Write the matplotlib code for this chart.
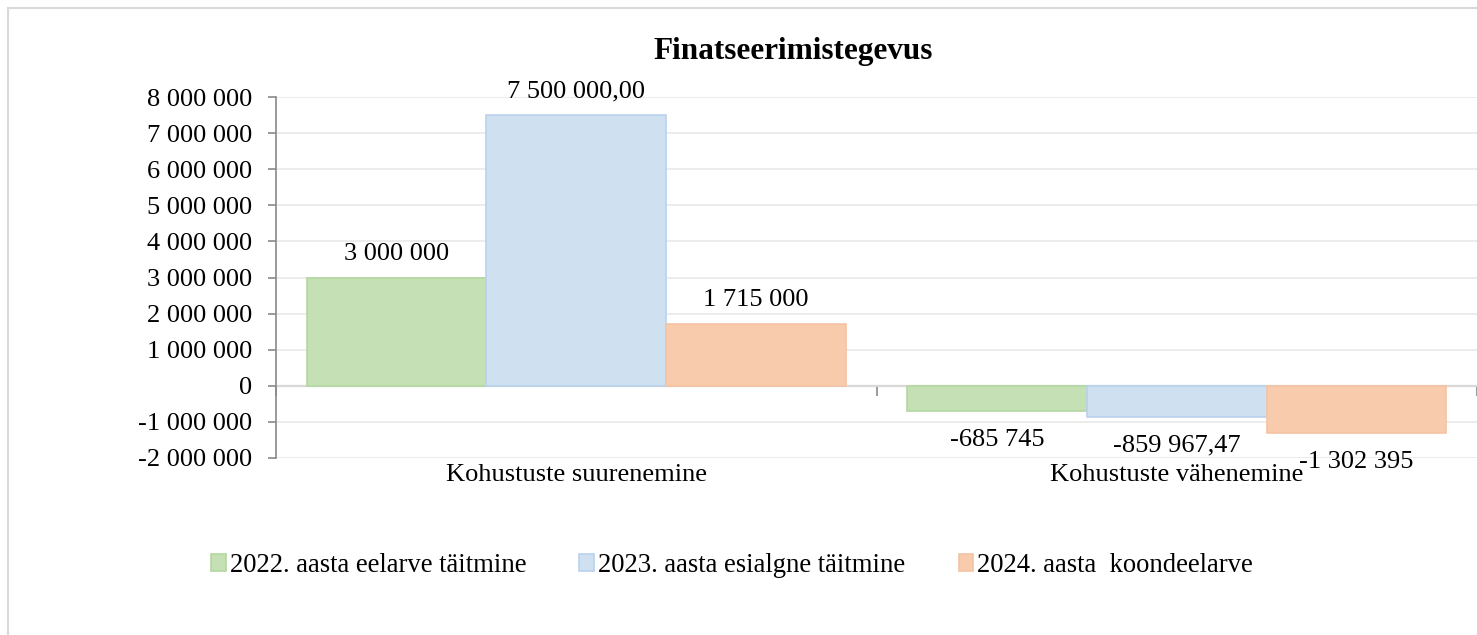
import matplotlib
matplotlib.use("Agg")
import matplotlib.pyplot as plt
from matplotlib.patches import Rectangle
from matplotlib.container import BarContainer
from matplotlib.ticker import FuncFormatter
import numpy as np

categories = ["Kohustuste suurenemine", "Kohustuste vähenemine"]
series_names = ["2022. aasta eelarve täitmine", "2023. aasta esialgne täitmine", "2024. aasta  koondeelarve"]
values_2022 = [3000000, -685745]
values_2023 = [7500000, -859967.47]
values_2024 = [1715000, -1302395]
label_decimals = [0, 2, 0]
title = "Finatseerimistegevus"

fills = ["#C5E0B4", "#CFE0F1", "#F8CBAD"]
edges = ["#B4D7A0", "#B9D2EC", "#F5C3A3"]

plt.rcParams['font.family'] = ['Liberation Serif', 'DejaVu Serif']

W, H, DPI = 1477, 635, 100
fig = plt.figure(figsize=(W / DPI, H / DPI), dpi=DPI)

# outer chart frame (extends beyond the image on right/bottom)
fig.patches.append(Rectangle((8 / W, -0.1), 1.2, 1 - 8 / H + 0.1, transform=fig.transFigure,
                             fill=False, edgecolor="#D9D9D9", linewidth=1.5, zorder=0))

ax = fig.add_axes([276 / W, 1 - 458 / H, 1 - 276 / W, (458 - 97) / H])

x = np.arange(len(categories))
width = 0.299
all_series = [values_2022, values_2023, values_2024]


def fmt(v, dec):
    s = f"{abs(v):,.{dec}f}".replace(",", " ").replace(".", ",")
    return ("-" if v < 0 else "") + s


for i, vals in enumerate(all_series):
    bars = ax.bar(x + (i - 1) * width, vals, width, color=fills[i], edgecolor=edges[i],
                  linewidth=1.2, label=series_names[i], zorder=3)
    for rect, v in zip(bars.patches, vals):
        single = BarContainer([rect], datavalues=[v], orientation="vertical")
        ax.bar_label(single, labels=[fmt(v, label_decimals[i])],
                     padding=9 if v >= 0 else 13, fontsize=19, color="black")

ax.set_xlim(-0.5, len(categories) - 0.5)
ax.set_ylim(-2000000, 8000000)
ax.set_yticks(np.arange(-2000000, 8000001, 1000000))
ax.yaxis.set_major_formatter(FuncFormatter(lambda v, p: fmt(v, 0) if v != 0 else "0"))
ax.tick_params(axis="y", labelsize=19, length=6, width=1.2, color="#898989", pad=11)
ax.grid(axis="y", color="#E9E9E9", linewidth=1.2, zorder=0)
ax.set_axisbelow(True)

ax.set_xticks(x)
ax.set_xticklabels(categories, fontsize=19)
ax.tick_params(axis="x", length=0, pad=4)

for s in ["top", "right", "bottom"]:
    ax.spines[s].set_visible(False)
ax.spines["left"].set_color("#898989")
ax.spines["left"].set_linewidth(1.2)

# category axis drawn at zero
sec = ax.secondary_xaxis(-ax.get_ylim()[0] / (ax.get_ylim()[1] - ax.get_ylim()[0]))
sec.set_xticks(np.arange(len(categories) + 1) - 0.5)
sec.set_xticklabels([])
sec.tick_params(length=7, width=1.2, color="#898989", direction="out")
sec.spines["bottom"].set_color("#898989")
sec.spines["bottom"].set_linewidth(1.5)

fig.text(793 / W, 1 - 51 / H, title, ha="center", va="center", fontsize=22.5, fontweight="bold")

fig.legend(loc="center", bbox_to_anchor=(732 / W, 1 - 565 / H), ncol=3, frameon=False,
           fontsize=19.2, handlelength=0.55, handleheight=0.6, handletextpad=0.15,
           columnspacing=2.0)

fig.savefig("out.png", dpi=DPI)
